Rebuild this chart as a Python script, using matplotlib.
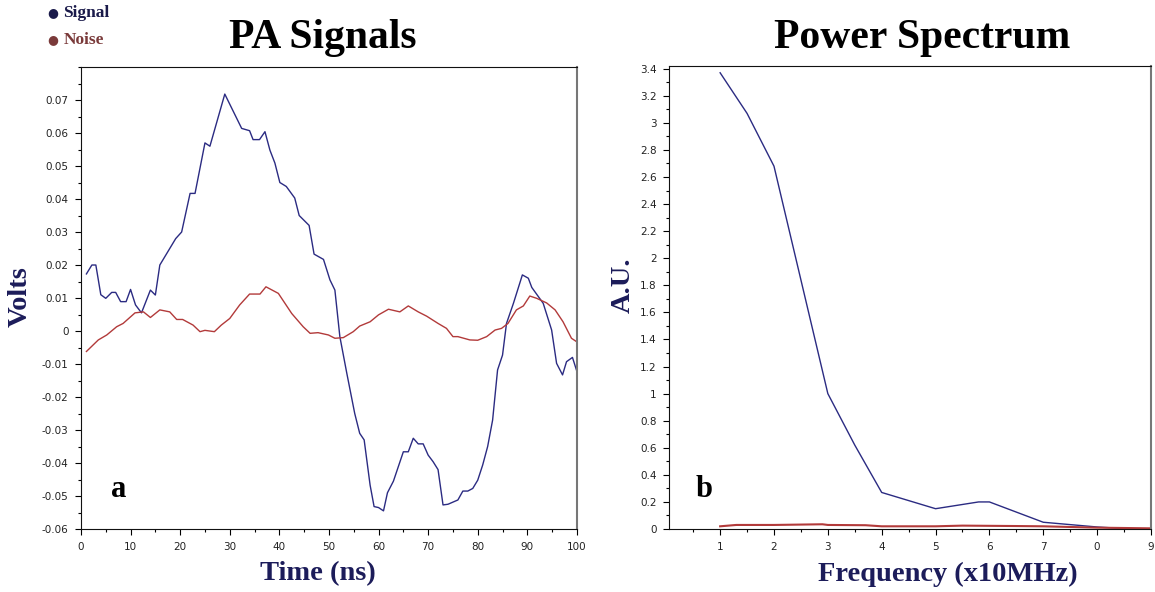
import matplotlib.pyplot as plt
from matplotlib.ticker import MultipleLocator, FuncFormatter, FixedLocator

# PA signals (time in ns, volts)
sig_t = [1.1, 2.2, 3, 4, 5, 6.2, 7, 8, 9.1, 10, 11, 12.2, 14, 15, 15.9, 17.3, 19.1,
         20.3, 22, 23, 25, 26, 29, 32.4, 34, 34.7, 36, 37.1, 38.1, 39.1, 40.1, 41.4,
         43.1, 44, 46, 47, 48.9, 50.2, 51.2, 52.2, 53.6, 55.2, 56.2, 57.1, 58.3, 59.1,
         60, 61, 61.8, 63, 65, 66, 67, 68, 69, 70, 71, 72, 73, 74, 76, 77, 78, 79, 80,
         81, 82, 83, 84, 85, 85.8, 87.2, 89, 90.2, 90.9, 93.2, 94.9, 95.9, 97.1, 97.9,
         99.1, 99.9]
sig_v = [0.0173, 0.020, 0.020, 0.011, 0.0099, 0.0117, 0.0117, 0.0089, 0.0089, 0.0126,
         0.0079, 0.0055, 0.0124, 0.0109, 0.020, 0.0235, 0.028, 0.030, 0.0417, 0.0417,
         0.057, 0.056, 0.0718, 0.0614, 0.0607, 0.058, 0.058, 0.0604, 0.0548, 0.0509,
         0.045, 0.0438, 0.0403, 0.035, 0.032, 0.0233, 0.0217, 0.0155, 0.0124, -0.0017,
         -0.0128, -0.025, -0.031, -0.033, -0.0467, -0.0532, -0.0535, -0.0545, -0.049,
         -0.0455, -0.0366, -0.0366, -0.0325, -0.0342, -0.0342, -0.0376, -0.0396, -0.042,
         -0.0527, -0.0525, -0.0512, -0.0485, -0.0485, -0.0477, -0.0452, -0.0406, -0.035,
         -0.027, -0.0118, -0.0073, 0.0023, 0.0084, 0.017, 0.016, 0.0132, 0.0084, 0.0003,
         -0.0098, -0.0133, -0.0093, -0.008, -0.0118]

noise_t = [1.1, 3.5, 5.2, 7.2, 8.5, 10.9, 12.6, 14, 15.9, 17.9, 19.3, 20.5, 22.6, 24,
           25, 26.9, 28.3, 30, 32, 34, 36.1, 37.3, 39.8, 42.5, 44.8, 46.2, 47.8, 49.9,
           51.2, 52.9, 54.9, 56.2, 58.3, 60, 62, 64.3, 66, 68, 69.7, 72, 73.7, 75, 76,
           78.4, 80, 81.8, 83.5, 84.8, 86.1, 87.8, 89.2, 90.5, 91.9, 93.9, 95.6, 97.2,
           98.9, 99.9]
noise_v = [-0.0062, -0.0027, -0.0012, 0.0013, 0.0023, 0.0055, 0.0058, 0.0041, 0.0064,
           0.0058, 0.0035, 0.0035, 0.0018, -0.0002, 0.0002, -0.0002, 0.0018, 0.0038,
           0.0079, 0.0112, 0.0112, 0.0134, 0.0114, 0.0053, 0.0013, -0.0007, -0.0005,
           -0.0012, -0.0022, -0.002, -0.0002, 0.0015, 0.0028, 0.0049, 0.0066, 0.0058,
           0.0076, 0.0058, 0.0045, 0.0023, 0.0008, -0.0017, -0.0017, -0.0027, -0.0028,
           -0.0017, 0.0003, 0.0008, 0.0023, 0.0064, 0.0076, 0.0106, 0.0099, 0.0085,
           0.0064, 0.0028, -0.0022, -0.0032]

# Power spectrum (x10 MHz, A.U.)
freq = [1, 1.5, 2, 3, 3.5, 4, 5, 5.8, 6, 7, 8, 8.5, 9]
sig_ps = [3.37, 3.07, 2.68, 1.0, 0.62, 0.27, 0.15, 0.2, 0.2, 0.05, 0.015, 0.003, 0.0]
noise_freq = [1, 1.3, 2, 2.9, 3, 3.7, 4, 5, 5.5, 6.5, 7, 8, 9]
noise_ps = [0.02, 0.03, 0.03, 0.035, 0.03, 0.028, 0.02, 0.02, 0.025, 0.022, 0.02, 0.01, 0.005]
freq_ticks = [1, 2, 3, 4, 5, 6, 7, 8, 9]
freq_labels = ["1", "2", "3", "4", "5", "6", "7", "0", "9"]

sig_col = "#2b2b82"
noise_col = "#b23a3a"
lab_col = "#1c1c5a"
serif = "Liberation Serif"

fig = plt.figure(figsize=(11.55, 5.92), dpi=100)
ax1 = fig.add_axes([0.0701, 0.1064, 0.4294, 0.7804])
ax2 = fig.add_axes([0.5792, 0.1064, 0.4173, 0.7821])

ax1.plot(sig_t, sig_v, color=sig_col, lw=1)
ax1.plot(noise_t, noise_v, color=noise_col, lw=1)
ax1.set_xlim(0, 100)
ax1.set_ylim(-0.06, 0.08)
ax1.xaxis.set_major_locator(MultipleLocator(10))
ax1.xaxis.set_minor_locator(MultipleLocator(5))
ax1.yaxis.set_major_locator(FixedLocator([round(-0.06 + 0.01 * i, 2) for i in range(14)]))
ax1.yaxis.set_minor_locator(MultipleLocator(0.005))
ax1.yaxis.set_major_formatter(FuncFormatter(lambda v, p: "%g" % round(v, 3)))

ax2.plot(freq, sig_ps, color=sig_col, lw=1)
ax2.plot(noise_freq, noise_ps, color=noise_col, lw=1.5)
ax2.set_xlim(0.05, 9)
ax2.set_ylim(0, 3.42)
ax2.set_xticks(freq_ticks)
ax2.set_xticklabels(freq_labels)
ax2.xaxis.set_minor_locator(MultipleLocator(0.5))
ax2.yaxis.set_major_locator(MultipleLocator(0.2))
ax2.yaxis.set_minor_locator(MultipleLocator(0.1))
ax2.yaxis.set_major_formatter(FuncFormatter(lambda v, p: "%g" % round(v, 2)))

for ax in (ax1, ax2):
    ax.tick_params(which="major", direction="out", length=4, width=0.8,
                   labelsize=7.5, labelcolor="#222222", pad=5)
    ax.tick_params(which="minor", direction="out", length=2.5, width=0.8)
    for s in ("top", "left", "bottom"):
        ax.spines[s].set_color("#111111")
    ax.spines["right"].set_color("#777777")
    ax.spines["right"].set_linewidth(1.5)

W, H = 1155, 592
title_kw = dict(fontsize=30, fontweight="bold", family=serif, ha="center", va="center")
fig.text(323 / W, 0.936, "PA Signals", **title_kw)
fig.text(922 / W, 0.936, "Power Spectrum", **title_kw)

lab_kw = dict(fontsize=20.5, fontweight="bold", family=serif, color=lab_col,
              ha="center", va="center")
fig.text(318 / W, 1 - 574 / H, "Time (ns)", **lab_kw)
fig.text(948 / W, 1 - 574 / H, "Frequency (x10MHz)", **lab_kw)
fig.text(20 / W, 1 - 297 / H, "Volts", rotation=90, **lab_kw)
fig.text(623 / W, 1 - 285 / H, "A.U.", rotation=90, **lab_kw)

ax1.text(0.06, 0.07, "a", transform=ax1.transAxes, fontsize=22, fontweight="bold", family=serif)
ax2.text(0.055, 0.07, "b", transform=ax2.transAxes, fontsize=22, fontweight="bold", family=serif)

# legend in the top-left corner
fig.text(0.041, 0.978, "\u25cf", color="#1a1a4a", fontsize=9, va="center")
fig.text(0.055, 0.978, "Signal", color="#1a1a4a", fontsize=12.5, fontweight="bold", family=serif, va="center")
fig.text(0.041, 0.933, "\u25cf", color="#7a3a3a", fontsize=9, va="center")
fig.text(0.055, 0.933, "Noise", color="#7a3a3a", fontsize=12.5, fontweight="bold", family=serif, va="center")

fig.savefig("out.png", dpi=100)
